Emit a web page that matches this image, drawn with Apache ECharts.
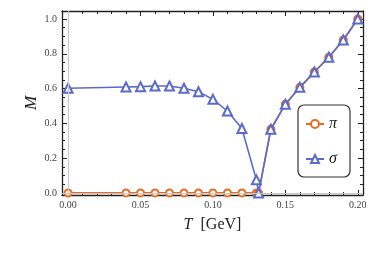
<!DOCTYPE html>
<html>
<head>
<meta charset="utf-8">
<script src="https://cdn.jsdelivr.net/npm/echarts@6/dist/echarts.min.js"></script>
<style>html,body{margin:0;padding:0;background:#fff;}#c{width:374px;height:259px;}</style>
</head>
<body>
<div id="c"></div>
<script>
var temps = [0, 0.04, 0.05, 0.06, 0.07, 0.08, 0.09, 0.10, 0.11, 0.12, 0.13, 0.1315, 0.14, 0.15, 0.16, 0.17, 0.18, 0.19, 0.20];
var piValues = [0, 0, 0, 0, 0, 0, 0, 0, 0, 0, 0, 0, 0.366, 0.51, 0.607, 0.695, 0.78, 0.879, 1.0];
var sigmaValues = [0.602, 0.609, 0.611, 0.615, 0.615, 0.602, 0.582, 0.538, 0.471, 0.37, 0.075, 0, 0.366, 0.51, 0.607, 0.695, 0.78, 0.879, 1.0];
var xMajorTicks = [0, 0.05, 0.10, 0.15, 0.20];
var xMinorTicks = [0, 0.01, 0.02, 0.03, 0.04, 0.05, 0.06, 0.07, 0.08, 0.09, 0.10, 0.11, 0.12, 0.13, 0.14, 0.15, 0.16, 0.17, 0.18, 0.19, 0.20];
var yMajorTicks = [0, 0.2, 0.4, 0.6, 0.8, 1.0];
var yMinorTicks = [0, 0.05, 0.1, 0.15, 0.2, 0.25, 0.3, 0.35, 0.4, 0.45, 0.5, 0.55, 0.6, 0.65, 0.7, 0.75, 0.8, 0.85, 0.9, 0.95, 1.0];
var seriesNames = ['\u03C0', '\u03C3'];

var xMin = -0.0042, xMax = 0.2036, yMin = -0.012, yMax = 1.046;
var serif = '"Liberation Serif", "DejaVu Serif", serif';

function lineOpt(main) {
  return {show: main, onZero: false, lineStyle: {color: '#222', width: 1.3}};
}
function pairs(xs, ys) { return xs.map(function (x, i) { return [x, ys[i]]; }); }

function xAx(pos, ticks, len, main) {
  return {
    type: 'value', position: pos, min: xMin, max: xMax, gridIndex: 0,
    axisLine: lineOpt(main),
    splitLine: {show: false},
    axisTick: {show: true, inside: true, length: len, customValues: ticks, lineStyle: {color: '#222', width: 1}},
    axisLabel: (main && pos === 'bottom') ? {
      show: true, customValues: xMajorTicks, margin: 5,
      fontFamily: serif, fontSize: 10, color: '#444',
      formatter: function (v) { return v.toFixed(2); }
    } : {show: false},
    name: (main && pos === 'bottom') ? '{i|T}  [GeV]' : '',
    nameLocation: 'middle', nameGap: 22,
    nameTextStyle: {fontFamily: serif, fontSize: 16, color: '#222', rich: {i: {fontFamily: serif, fontStyle: 'italic', fontSize: 16, color: '#222'}}}
  };
}
function yAx(pos, ticks, len, main) {
  return {
    type: 'value', position: pos, min: yMin, max: yMax, gridIndex: 0,
    axisLine: lineOpt(main),
    splitLine: {show: false},
    axisTick: {show: true, inside: true, length: len, customValues: ticks, lineStyle: {color: '#222', width: 1}},
    axisLabel: (main && pos === 'left') ? {
      show: true, customValues: yMajorTicks, margin: 5,
      fontFamily: serif, fontSize: 10, color: '#444',
      formatter: function (v) { return v.toFixed(1); }
    } : {show: false},
    name: (main && pos === 'left') ? 'M' : '',
    nameLocation: 'middle', nameGap: 22, nameMoveOverlap: false,
    nameTextStyle: {fontFamily: serif, fontStyle: 'italic', fontSize: 17, color: '#222'}
  };
}

var orange = '#EA6B20', blue = '#5A6BC9';
var chart = echarts.init(document.getElementById('c'), null, {renderer: 'canvas'});
chart.setOption({
  animation: false,
  backgroundColor: '#fff',
  grid: {left: 62, right: 11, top: 11, bottom: 64, containLabel: false},
  xAxis: [xAx('bottom', xMajorTicks, 5, true), xAx('bottom', xMinorTicks, 3, false),
          xAx('top', xMajorTicks, 5, true), xAx('top', xMinorTicks, 3, false)],
  yAxis: [yAx('left', yMajorTicks, 5, true), yAx('left', yMinorTicks, 3, false),
          yAx('right', yMajorTicks, 5, true), yAx('right', yMinorTicks, 3, false)],
  legend: {
    show: true, orient: 'vertical', left: 298, top: 105,
    borderColor: '#333', borderWidth: 1.2, borderRadius: 6,
    padding: [11, 13, 10, 7], itemGap: 19, itemWidth: 18, itemHeight: 10,
    textStyle: {fontFamily: serif, fontStyle: 'italic', fontSize: 16, color: '#222'},
    data: seriesNames
  },
  series: [
    {
      name: seriesNames[0], type: 'line', xAxisIndex: 0, yAxisIndex: 0,
      data: pairs(temps, piValues),
      symbol: 'emptyCircle', symbolSize: 7,
      lineStyle: {color: orange, width: 1.6},
      itemStyle: {color: orange, borderWidth: 1.6},
      z: 2,
      markLine: {
        silent: true, symbol: 'none', label: {show: false},
        lineStyle: {color: '#c8c8c8', width: 1, type: 'solid'},
        data: [{xAxis: 0}, {yAxis: 0}]
      }
    },
    {
      name: seriesNames[1], type: 'line', xAxisIndex: 0, yAxisIndex: 0,
      data: pairs(temps, sigmaValues),
      symbol: 'emptyTriangle', symbolSize: 9,
      lineStyle: {color: blue, width: 1.6},
      itemStyle: {color: blue, borderWidth: 1.6},
      z: 3
    }
  ]
});
</script>
</body>
</html>
